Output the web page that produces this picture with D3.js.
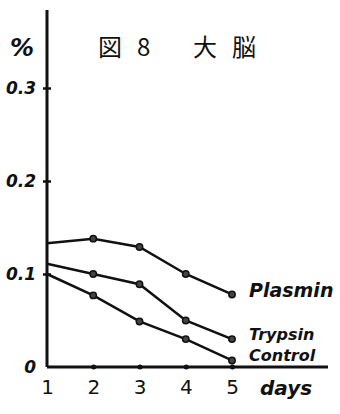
<!DOCTYPE html>
<html>
<head>
<meta charset="utf-8">
<script src="https://cdn.jsdelivr.net/npm/d3@7"></script>
<style>
    body { margin: 0; background: #fff; }
    svg { display: block; }
    .lbl { font-family: "DejaVu Sans", sans-serif; font-style: italic; fill: #111; }
</style>
</head>
<body>
<div id="chart"></div>
<script>
/* global d3 */

let days = [1, 2, 3, 4, 5];
let plasmin = [0.133, 0.138, 0.129, 0.100, 0.078];
let trypsin = [0.111, 0.100, 0.089, 0.050, 0.030];
let control = [0.100, 0.077, 0.049, 0.030, 0.007];
let seriesNames = ["Plasmin", "Trypsin", "Control"];
let yTicks = [0, 0.1, 0.2, 0.3];
let yTickLabels = ["0", "0.1", "0.2", "0.3"];

let width = 340, height = 414;

let x = d3.scaleLinear().domain([1, 5]).range([47, 232]);
let y = d3.scaleLinear().domain([0, 0.3]).range([367, 88]);

let svg = d3.select("#chart").append("svg")
    .attr("width", width)
    .attr("height", height);

// axes drawn as plain lines, like the hand drawing
svg.append("line")
    .attr("x1", x(1)).attr("x2", x(1))
    .attr("y1", 10).attr("y2", y(0))
    .attr("stroke", "#111").attr("stroke-width", 3);
svg.append("line")
    .attr("x1", x(1)).attr("x2", 328)
    .attr("y1", y(0)).attr("y2", y(0))
    .attr("stroke", "#111").attr("stroke-width", 3);

let yAxis = d3.axisLeft(y).tickValues(yTicks).tickSize(0)
    .tickFormat((d, i) => yTickLabels[i]);
let gy = svg.append("g").attr("transform", "translate(" + x(1) + ",0)").call(yAxis);
gy.select(".domain").remove();
gy.selectAll("text")
    .attr("class", "lbl")
    .attr("x", -11)
    .attr("font-size", 17)
    .attr("font-weight", "bold");
gy.selectAll(".tick").filter(d => d > 0).append("line")
    .attr("x1", -4).attr("x2", 4)
    .attr("stroke", "#111").attr("stroke-width", 2.5);

let xAxis = d3.axisBottom(x).tickValues(days).tickSize(0).tickFormat(d3.format("d"));
let gx = svg.append("g").attr("transform", "translate(0," + y(0) + ")").call(xAxis);
gx.select(".domain").remove();
gx.selectAll("text")
    .attr("font-family", "DejaVu Sans, sans-serif")
    .attr("font-size", 20)
    .attr("fill", "#111")
    .attr("y", 13);
gx.selectAll(".tick").filter(d => d > 1).append("circle")
    .attr("r", 2.5).attr("fill", "#111");

let line = d3.line().x((d, i) => x(days[i])).y(d => y(d));

[plasmin, trypsin, control].forEach(function(vals) {
    svg.append("path")
        .datum(vals)
        .attr("d", line)
        .attr("fill", "none")
        .attr("stroke", "#111")
        .attr("stroke-width", 2.5);
    svg.selectAll(null)
        .data(vals.slice(1))
        .enter().append("circle")
        .attr("cx", (d, i) => x(days[i + 1]))
        .attr("cy", d => y(d))
        .attr("r", 3.2)
        .attr("fill", "#444")
        .attr("stroke", "#111")
        .attr("stroke-width", 1.5);
});

let labelY = [297, 340, 361];
let labelSize = [19, 16, 16];
seriesNames.forEach(function(name, i) {
    svg.append("text")
        .attr("class", "lbl")
        .attr("x", 249)
        .attr("y", labelY[i])
        .attr("font-size", labelSize[i])
        .attr("font-weight", "bold")
        .text(name);
});

svg.append("text")
    .attr("class", "lbl")
    .attr("x", 260).attr("y", 395)
    .attr("font-size", 20)
    .attr("font-weight", "bold")
    .text("days");

svg.append("text")
    .attr("class", "lbl")
    .attr("x", 10).attr("y", 56)
    .attr("font-size", 24)
    .attr("font-weight", "bold")
    .text("%");

// title pieces spread out as in the drawing
let title = svg.append("text")
    .attr("y", 56)
    .attr("font-family", "Noto Sans CJK JP")
    .attr("font-size", 24)
    .attr("fill", "#111");
title.append("tspan").attr("x", 98).text("図");
title.append("tspan").attr("x", 137).text("8");
title.append("tspan").attr("x", 193).text("大");
title.append("tspan").attr("x", 232).text("脳");
</script>
</body>
</html>
